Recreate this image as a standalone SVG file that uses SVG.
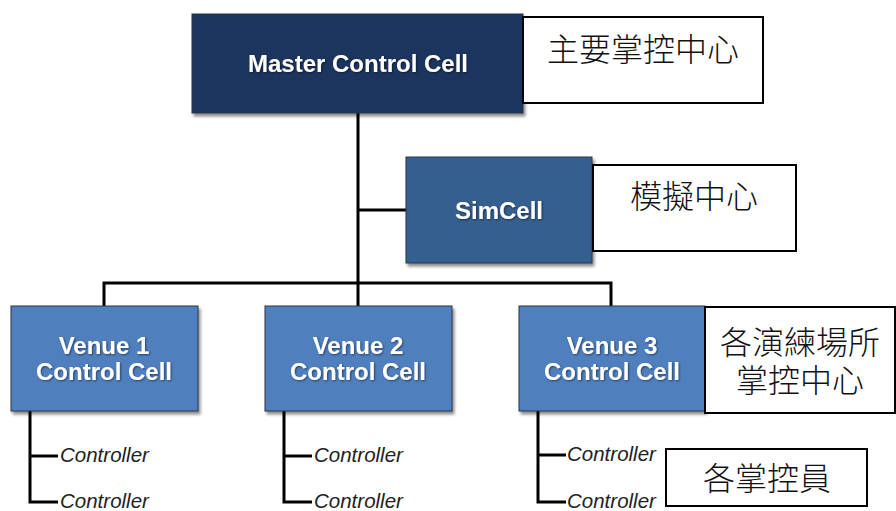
<svg xmlns="http://www.w3.org/2000/svg" width="896" height="511" viewBox="0 0 896 511">
  <defs>
    <filter id="boxShadow" x="-10%" y="-10%" width="125%" height="130%">
      <feGaussianBlur in="SourceAlpha" stdDeviation="1.5"/>
      <feOffset dx="2" dy="3" result="off"/>
      <feComponentTransfer><feFuncA type="linear" slope="0.45"/></feComponentTransfer>
      <feMerge><feMergeNode/><feMergeNode in="SourceGraphic"/></feMerge>
    </filter>
    <filter id="textGlow" x="-10%" y="-30%" width="120%" height="160%">
      <feGaussianBlur in="SourceAlpha" stdDeviation="1.2"/>
      <feOffset dx="0.5" dy="1" result="off"/>
      <feComponentTransfer><feFuncA type="linear" slope="0.5"/></feComponentTransfer>
      <feMerge><feMergeNode/><feMergeNode in="SourceGraphic"/></feMerge>
    </filter>
  </defs>
  <style>
    .cell { stroke: #2b3442; stroke-width: 1; filter: url(#boxShadow); }
    .master { fill: #1b365e; }
    .sim { fill: #365f8e; }
    .venue { fill: #4f80bd; }
    .cellText { font-family: "Liberation Sans", Arial, sans-serif; font-weight: bold; font-size: 24px; fill: #ffffff; text-anchor: middle; filter: url(#textGlow); }
    .note { fill: #ffffff; stroke: #000000; stroke-width: 2; }
    .noteText { font-family: "Noto Sans CJK TC", "Noto Sans CJK SC", sans-serif; font-weight: 300; font-size: 32px; fill: #111111; text-anchor: middle; }
    .wire { fill: none; stroke: #000000; stroke-width: 3; }
    .ctrl { font-family: "Liberation Sans", Arial, sans-serif; font-style: italic; font-size: 20.5px; fill: #222222; }
  </style>

  <!-- connectors -->
  <g id="connectors">
    <path class="wire" d="M358,113 V283"/>
    <path class="wire" d="M358,210 H406"/>
    <path class="wire" d="M104,306 V283 H611 V306"/>
    <path class="wire" d="M358,283 V306"/>
    <!-- controller branches -->
    <path class="wire" d="M30,411 V502 H58 M30,456 H58"/>
    <path class="wire" d="M284,411 V502 H312 M284,456 H312"/>
    <path class="wire" d="M538,411 V502 H566 M538,455 H566"/>
  </g>

  <g id="master">
    <rect class="cell master" x="192" y="14" width="331" height="99"/>
    <text class="cellText" x="358" y="72">Master Control Cell</text>
  </g>
  <g id="master-note">
    <rect class="note" x="523" y="17" width="240" height="86"/>
    <text class="noteText" x="643" y="61">主要掌控中心</text>
  </g>

  <g id="simcell">
    <rect class="cell sim" x="406" y="157" width="186" height="106"/>
    <text class="cellText" x="499" y="219">SimCell</text>
  </g>
  <g id="simcell-note">
    <rect class="note" x="593" y="165" width="203" height="86"/>
    <text class="noteText" x="694" y="208">模擬中心</text>
  </g>

  <g id="venue1">
    <rect class="cell venue" x="11" y="306" width="187" height="105"/>
    <text class="cellText" x="104" y="354">Venue 1</text>
    <text class="cellText" x="104" y="380">Control Cell</text>
  </g>
  <g id="venue2">
    <rect class="cell venue" x="265" y="306" width="187" height="105"/>
    <text class="cellText" x="358" y="354">Venue 2</text>
    <text class="cellText" x="358" y="380">Control Cell</text>
  </g>
  <g id="venue3">
    <rect class="cell venue" x="519" y="306" width="186" height="105"/>
    <text class="cellText" x="612" y="354">Venue 3</text>
    <text class="cellText" x="612" y="380">Control Cell</text>
  </g>
  <g id="venue-note">
    <rect class="note" x="705" y="307" width="190" height="106"/>
    <text class="noteText" x="800" y="354">各演練場所</text>
    <text class="noteText" x="800" y="392">掌控中心</text>
  </g>

  <g id="controllers">
    <text class="ctrl" x="60" y="462">Controller</text>
    <text class="ctrl" x="60" y="508">Controller</text>
    <text class="ctrl" x="314" y="462">Controller</text>
    <text class="ctrl" x="314" y="508">Controller</text>
    <text class="ctrl" x="567" y="461">Controller</text>
    <text class="ctrl" x="567" y="508">Controller</text>
  </g>

  <g id="controller-note">
    <rect class="note" x="666" y="449" width="201" height="57"/>
    <text class="noteText" x="767" y="490">各掌控員</text>
  </g>
</svg>
